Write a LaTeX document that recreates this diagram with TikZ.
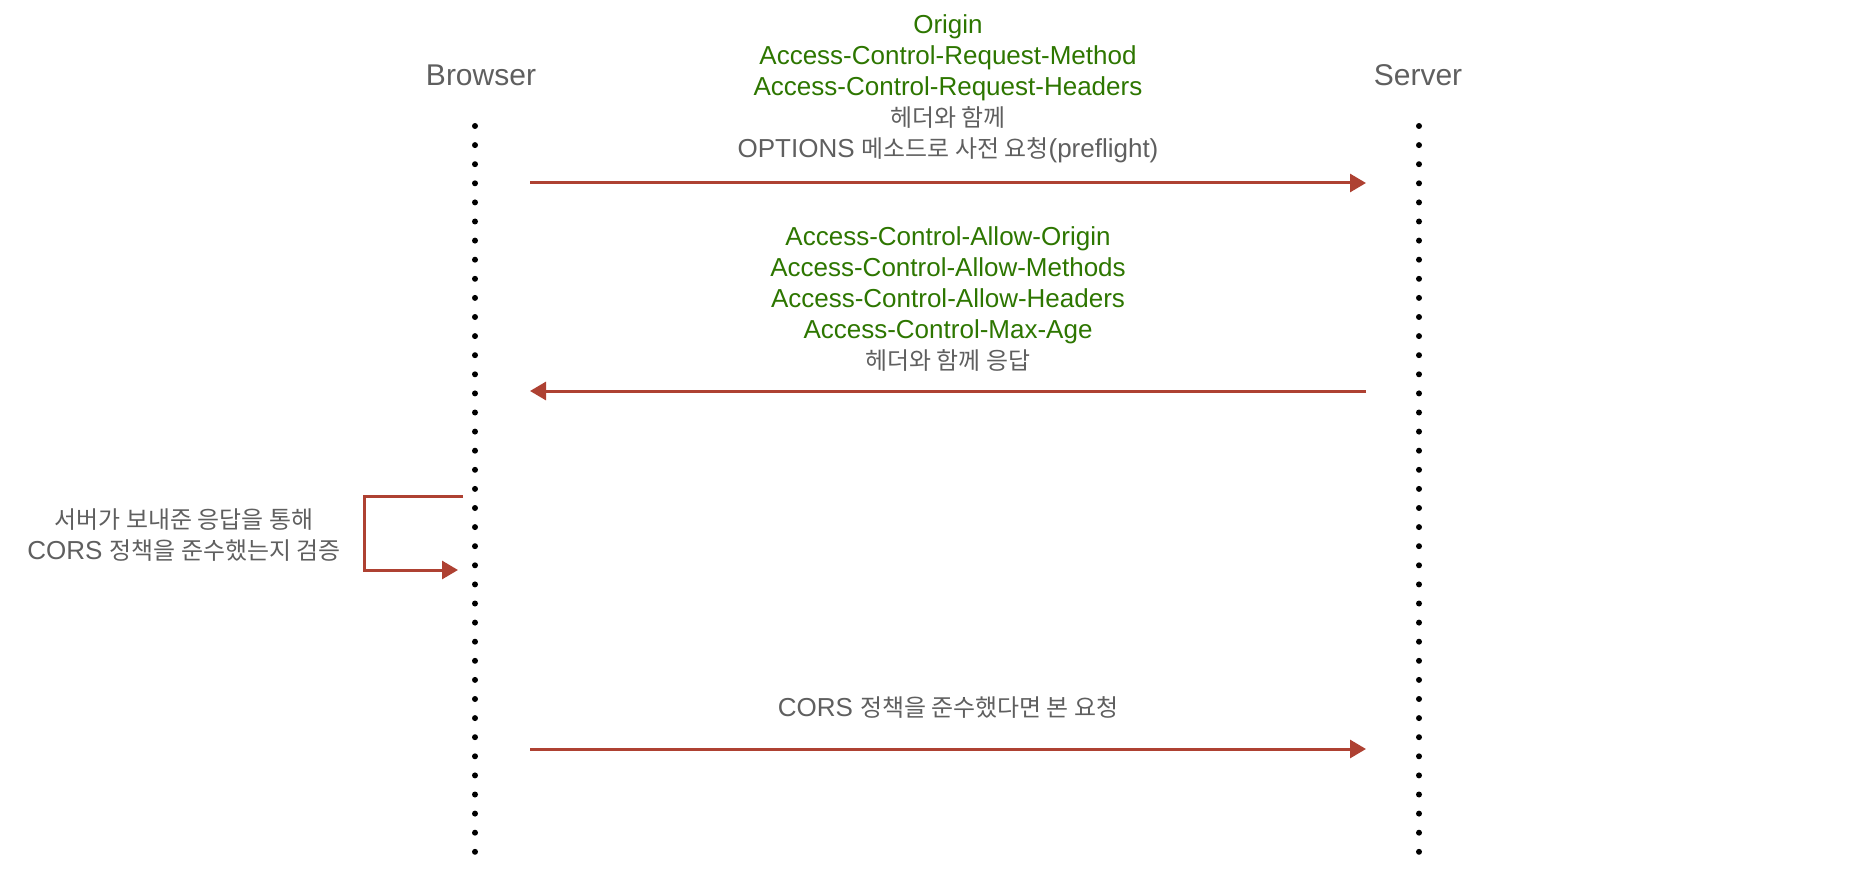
\documentclass[tikz,border=0pt]{standalone}
\usepackage{fontspec}
\setmainfont{Liberation Sans}
\newfontfamily\kr[Scale=0.92]{Noto Sans CJK KR}
\usetikzlibrary{arrows.meta}
\definecolor{txtgray}{HTML}{5F5F5F}
\definecolor{hdrgreen}{HTML}{2D7600}
\definecolor{arrred}{HTML}{AE4132}
\begin{document}
\begin{tikzpicture}[x=0.5pt,y=-0.5pt,
  lifeline/.style={line width=3pt,line cap=round,dash pattern=on 0pt off 9.55pt,black},
  msgarrow/.style={draw=arrred,line width=1.5pt,-{Triangle[length=8pt,width=9pt]}},
  actor/.style={text=txtgray,font=\fontsize{15pt}{18pt}\selectfont,inner sep=0pt},
  msgtext/.style={align=center,font=\fontsize{13pt}{15.5pt}\selectfont,text=txtgray,inner sep=0pt}]
\useasboundingbox (0,0) rectangle (1876,888);
% actors
\node[actor] (browser) at (481,75) {Browser};
\node[actor] (server) at (1418,75) {Server};
% lifelines
\coordinate (btop) at (475,126);
\coordinate (bbot) at (475,852);
\coordinate (stop) at (1419,126);
\coordinate (sbot) at (1419,852);
\draw[lifeline] (btop) -- (bbot);
\draw[lifeline] (stop) -- (sbot);
% message 1
\coordinate (m1s) at (530,183);
\coordinate (m1e) at (1366,183);
\draw[msgarrow] (m1s) -- (m1e);
\node[msgtext] (t1) at (948,89) {\textcolor{hdrgreen}{Origin}\\
\textcolor{hdrgreen}{Access-Control-Request-Method}\\
\textcolor{hdrgreen}{Access-Control-Request-Headers}\\
{\kr 헤더와 함께}\\
OPTIONS {\kr 메소드로 사전 요청}(preflight)};
% message 2
\coordinate (m2s) at (1366,391);
\coordinate (m2e) at (530,391);
\draw[msgarrow] (m2s) -- (m2e);
\node[msgtext] (t2) at (948,299) {\textcolor{hdrgreen}{Access-Control-Allow-Origin}\\
\textcolor{hdrgreen}{Access-Control-Allow-Methods}\\
\textcolor{hdrgreen}{Access-Control-Allow-Headers}\\
\textcolor{hdrgreen}{Access-Control-Max-Age}\\
{\kr 헤더와 함께 응답}};
% self loop
\coordinate (l1) at (463,496);
\coordinate (l2) at (364,496);
\coordinate (l3) at (364,570);
\coordinate (l4) at (458,570);
\draw[msgarrow] (l1) -- (l2) -- (l3) -- (l4);
\node[msgtext] (t3) at (184,535) {{\kr 서버가 보내준 응답을 통해}\\
CORS {\kr 정책을 준수했는지 검증}};
% message 3
\coordinate (m3s) at (530,749);
\coordinate (m3e) at (1366,749);
\draw[msgarrow] (m3s) -- (m3e);
\node[msgtext] (t4) at (948,708) {CORS {\kr 정책을 준수했다면 본 요청}};
\end{tikzpicture}
\end{document}
